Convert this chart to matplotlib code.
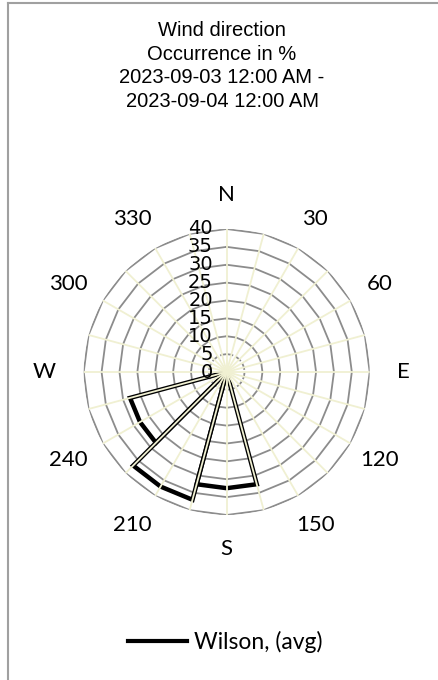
import numpy as np
import matplotlib
matplotlib.use("Agg")
import matplotlib.pyplot as plt
from matplotlib.lines import Line2D

# sector centres (deg) and occurrence in %
directions = [0, 30, 60, 90, 120, 150, 180, 210, 240, 270, 300, 330]
occurrence = [0, 0, 0, 0, 0, 0, 32.5, 37.0, 28.0, 0, 0, 0]
dir_labels = ["N", "30", "60", "E", "120", "150", "S", "210", "240", "W", "300", "330"]
rings = [5, 10, 15, 20, 25, 30, 35, 40]
ring_labels = ["0", "5", "10", "15", "20", "25", "30", "35", "40"]
series_name = "Wilson, (avg)"
title = "Wind direction\nOccurrence in %\n2023-09-03 12:00 AM -\n2023-09-04 12:00 AM"

GRID = "#8c8c8c"
SPOKE = "#f0f0d2"

fig = plt.figure(figsize=(4.39, 6.8), dpi=100)

# outer frame (only top/left edge visible in the original crop)
fig.add_artist(Line2D([8 / 439, 1], [1 - 3 / 680, 1 - 3 / 680], color="#a0a0a0", lw=1.5))
fig.add_artist(Line2D([8 / 439, 8 / 439], [0, 1 - 3 / 680], color="#a0a0a0", lw=1.5))

fig.text(222 / 439, 1 - 66 / 680, title, ha="center", va="center",
         family="Liberation Sans", fontsize=14.5, linespacing=1.3)

ax = fig.add_axes([83.7 / 439, (680 - 372 - 143) / 680, 286 / 439, 286 / 680],
                  projection="polar")
ax.set_theta_zero_location("N")
ax.set_theta_direction(-1)
ax.set_ylim(0, 40)
ax.grid(False)
ax.set_xticks([])
ax.set_yticks([])
ax.spines["polar"].set_visible(False)

# polygonal rings, 24 sides
spoke_deg = np.arange(0, 361, 15)
th = np.deg2rad(spoke_deg)
for r in rings:
    ls = "--" if r == 5 else "-"
    ax.plot(th, np.full_like(th, r, dtype=float), color=GRID, lw=1.3, ls=ls, zorder=1)

# wedges
for d, v in zip(directions, occurrence):
    if v <= 0:
        continue
    t = np.deg2rad([d, d - 15, d, d + 15, d])
    rr = [0, v, v, v, 0]
    ax.plot(t, rr, color="black", lw=3.2, solid_joinstyle="miter", zorder=2)

# spokes on top
for a in spoke_deg[:-1]:
    ax.plot([np.deg2rad(a)] * 2, [0, 40], color=SPOKE, lw=1.3, zorder=3)

for d, lab in zip(directions, dir_labels):
    dx = -4 if 180 < d < 360 else 0
    ax.annotate(lab, xy=(np.deg2rad(d), 49.5), xytext=(dx, 0), textcoords="offset points",
                ha="center", va="center", family="Lato", fontsize=16,
                annotation_clip=False)

for r, lab in zip([0] + rings, ring_labels):
    ax.annotate(lab, xy=(0, r), xytext=(-10, 0), textcoords="offset points",
                ha="right", va="center", fontsize=14, family="DejaVu Sans",
                annotation_clip=False, zorder=4)

handle = Line2D([], [], color="black", lw=3)
fig.legend([handle], [series_name], loc="center", bbox_to_anchor=(225 / 439, 1 - 642 / 680),
           frameon=False, handlelength=2.6, handletextpad=0.3,
           prop={"family": "Lato", "size": 16.5})

fig.savefig("out.png", dpi=100)
